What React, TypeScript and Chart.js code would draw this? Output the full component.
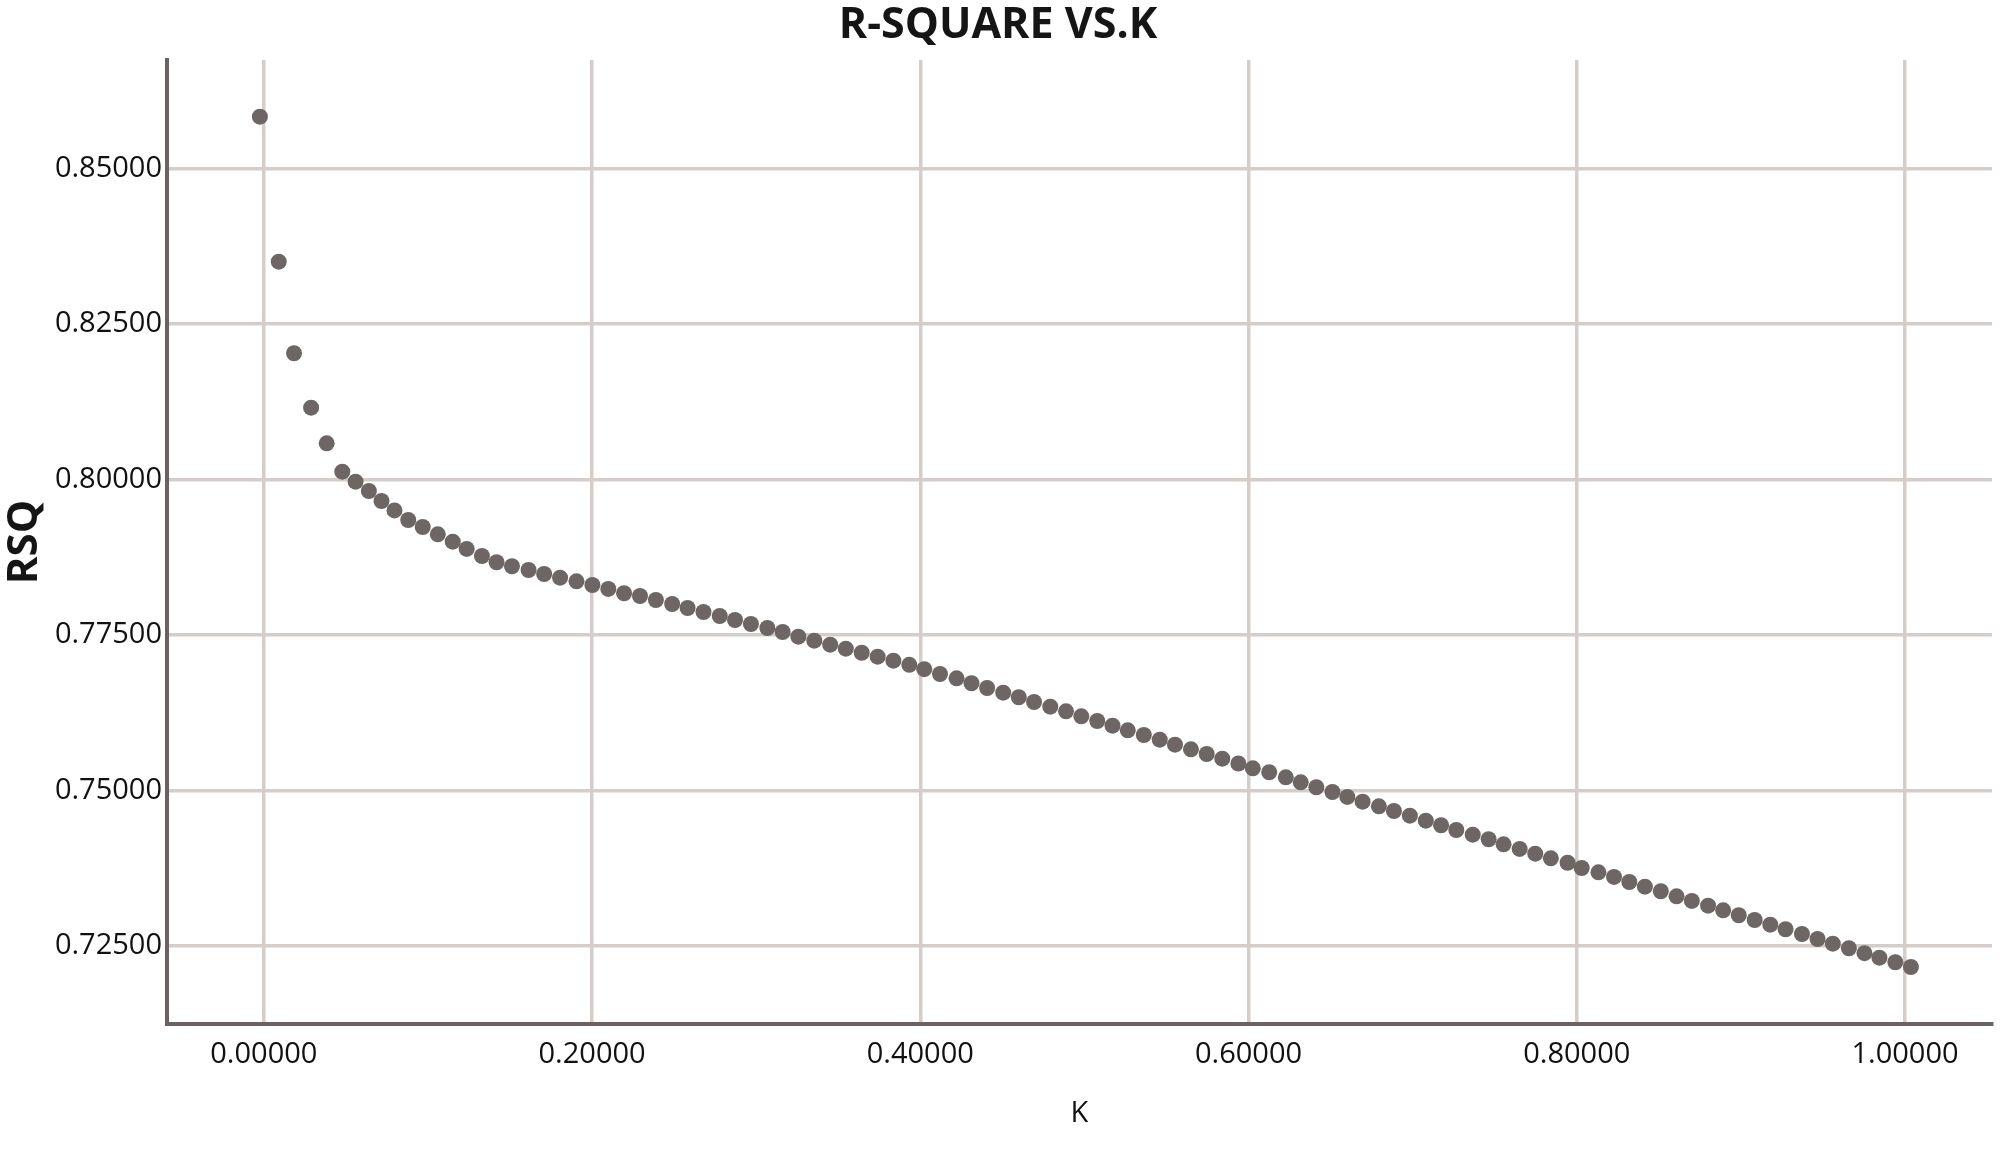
import React, { useEffect, useRef } from 'react';
import { Chart, registerables } from 'chart.js';

Chart.register(...registerables);

const chartTitle = 'R-SQUARE VS.K';
const xAxisTitle = 'K';
const yAxisTitle = 'RSQ';

const kValues = [
  -0.0024, 0.0091, 0.0184, 0.0288, 0.0383, 0.0478, 0.0559, 0.0640, 0.0717, 0.0796,
  0.0880, 0.0968, 0.1060, 0.1151, 0.1236, 0.1329, 0.1418, 0.1512, 0.1613, 0.1708,
  0.1805, 0.1905, 0.2002, 0.2099, 0.2195, 0.2292, 0.2389, 0.2488, 0.2582, 0.2679,
  0.2778, 0.2871, 0.2968, 0.3068, 0.3161, 0.3257, 0.3354, 0.3451, 0.3546, 0.3643,
  0.3740, 0.3836, 0.3933, 0.4024, 0.4120, 0.4221, 0.4312, 0.4407, 0.4505, 0.4600,
  0.4693, 0.4792, 0.4888, 0.4981, 0.5078, 0.5171, 0.5264, 0.5362, 0.5459, 0.5552,
  0.5649, 0.5745, 0.5840, 0.5938, 0.6026, 0.6126, 0.6227, 0.6318, 0.6413, 0.6511,
  0.6602, 0.6695, 0.6794, 0.6886, 0.6983, 0.7080, 0.7173, 0.7266, 0.7366, 0.7463,
  0.7554, 0.7652, 0.7747, 0.7842, 0.7944, 0.8030, 0.8132, 0.8227, 0.8320, 0.8415,
  0.8512, 0.8608, 0.8701, 0.8800, 0.8892, 0.8987, 0.9084, 0.9179, 0.9272, 0.9372,
  0.9467, 0.9560, 0.9658, 0.9753, 0.9844, 0.9941, 1.0036,
];

const rsqValues = [
  0.85833, 0.83502, 0.82029, 0.81154, 0.80582, 0.80125, 0.79965, 0.79815, 0.79654, 0.79502,
  0.79349, 0.79236, 0.79119, 0.79000, 0.78883, 0.78770, 0.78669, 0.78605, 0.78545, 0.78481,
  0.78421, 0.78363, 0.78304, 0.78240, 0.78171, 0.78127, 0.78063, 0.77998, 0.77934, 0.77870,
  0.77805, 0.77741, 0.77677, 0.77612, 0.77548, 0.77473, 0.77408, 0.77344, 0.77280, 0.77215,
  0.77151, 0.77087, 0.77021, 0.76950, 0.76873, 0.76804, 0.76724, 0.76648, 0.76573, 0.76499,
  0.76423, 0.76347, 0.76273, 0.76193, 0.76117, 0.76042, 0.75968, 0.75892, 0.75817, 0.75736,
  0.75662, 0.75587, 0.75511, 0.75434, 0.75357, 0.75293, 0.75212, 0.75132, 0.75052, 0.74976,
  0.74896, 0.74820, 0.74746, 0.74670, 0.74595, 0.74515, 0.74441, 0.74365, 0.74290, 0.74216,
  0.74135, 0.74060, 0.73984, 0.73910, 0.73838, 0.73754, 0.73685, 0.73610, 0.73529, 0.73454,
  0.73380, 0.73299, 0.73224, 0.73148, 0.73074, 0.72994, 0.72918, 0.72843, 0.72769, 0.72693,
  0.72613, 0.72538, 0.72464, 0.72384, 0.72313, 0.72239, 0.72162,
];

const xTickValues = [0, 0.2, 0.4, 0.6, 0.8, 1.0];
const yTickValues = [0.725, 0.75, 0.775, 0.8, 0.825, 0.85];

const FONT = '"Open Sans", "Noto Sans", sans-serif';
const GRID_COLOR = '#d4cdca';
const AXIS_COLOR = '#6b6262';
const POINT_COLOR = '#6e6565';

export default function App() {
  const canvasRef = useRef<HTMLCanvasElement | null>(null);

  useEffect(() => {
    if (!canvasRef.current) return;
    const points = kValues.map((k, i) => ({ x: k, y: rsqValues[i] }));
    const chart = new Chart(canvasRef.current, {
      type: 'scatter',
      data: {
        datasets: [
          {
            label: 'RSQ',
            data: points,
            backgroundColor: POINT_COLOR,
            borderWidth: 0,
            pointRadius: 8,
            pointHoverRadius: 8,
          },
        ],
      },
      options: {
        responsive: false,
        animation: false,
        devicePixelRatio: 1,
        events: [],
        layout: { padding: { left: 0, right: 4, top: 0, bottom: 0 } },
        plugins: {
          legend: { display: false },
          tooltip: { enabled: false },
          title: {
            display: true,
            text: chartTitle,
            color: '#151515',
            font: { family: FONT, size: 43, weight: 'bold', lineHeight: 1.2 },
            padding: { top: 0, bottom: 8.4 },
          },
        },
        scales: {
          x: {
            type: 'linear',
            min: -0.059,
            max: 1.053,
            afterBuildTicks: (scale: any) => {
              scale.ticks = xTickValues.map((v) => ({ value: v }));
            },
            afterFit: (scale: any) => {
              scale.height = 146;
            },
            grid: { color: GRID_COLOR, lineWidth: 3.5, drawTicks: false },
            border: { display: true, color: AXIS_COLOR, width: 4 },
            ticks: {
              color: '#111111',
              font: { family: FONT, size: 29 },
              padding: 13,
              maxRotation: 0,
              callback: (v: any) => Number(v).toFixed(5),
            },
            title: {
              display: true,
              text: xAxisTitle,
              color: '#111111',
              font: { family: FONT, size: 29, lineHeight: 1.2 },
              padding: { top: 0, bottom: 39 },
            },
          },
          y: {
            type: 'linear',
            min: 0.71246,
            max: 0.86744,
            afterBuildTicks: (scale: any) => {
              scale.ticks = yTickValues.map((v) => ({ value: v }));
            },
            afterFit: (scale: any) => {
              scale.width = 167;
            },
            grid: { color: GRID_COLOR, lineWidth: 3.5, drawTicks: false },
            border: { display: true, color: AXIS_COLOR, width: 4 },
            ticks: {
              color: '#111111',
              font: { family: FONT, size: 29 },
              padding: 5,
              callback: (v: any) => Number(v).toFixed(5),
            },
            title: {
              display: true,
              text: yAxisTitle,
              color: '#151515',
              font: { family: FONT, size: 42, weight: 'bold', lineHeight: 1.2 },
              padding: { top: 0, bottom: 0 },
            },
          },
        },
      },
    });
    return () => chart.destroy();
  }, []);

  return (
    <div style={{ position: 'absolute', left: 0, top: 0, width: 2000, height: 1170, background: '#ffffff' }}>
      <canvas ref={canvasRef} width={2000} height={1170} style={{ display: 'block' }} />
    </div>
  );
}
